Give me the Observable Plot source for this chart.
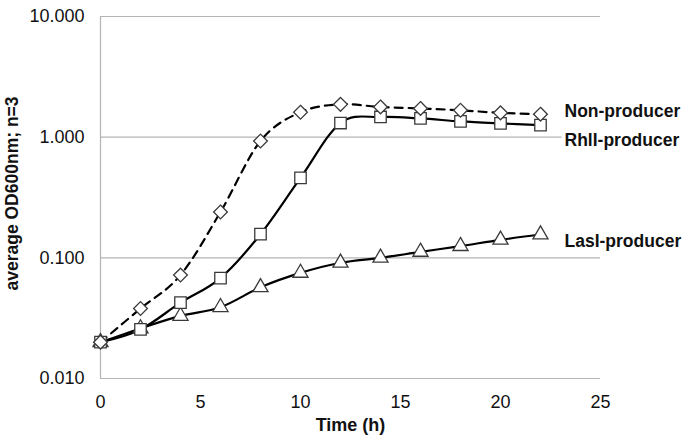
<!DOCTYPE html>
<html>
<head>
<meta charset="utf-8">
<script src="https://cdn.jsdelivr.net/npm/d3@7"></script>
<script src="https://cdn.jsdelivr.net/npm/@observablehq/plot@0.6"></script>
<style>
  html, body { margin: 0; padding: 0; background: #fff; }
  #chart svg { display: block; }
</style>
</head>
<body>
<div id="chart"></div>
<script>
const time = [0, 2, 4, 6, 8, 10, 12, 14, 16, 18, 20, 22];
const nonProducer = [0.020, 0.038, 0.072, 0.24, 0.93, 1.61, 1.87, 1.78, 1.73, 1.67, 1.59, 1.55];
const rhlIProducer = [0.020, 0.0255, 0.0425, 0.068, 0.157, 0.46, 1.31, 1.47, 1.43, 1.35, 1.30, 1.26];
const lasIProducer = [0.020, 0.026, 0.033, 0.039, 0.057, 0.075, 0.091, 0.100, 0.112, 0.125, 0.141, 0.156];
const seriesNames = ["Non-producer", "RhlI-producer", "LasI-producer"];
const yTicks = [0.01, 0.1, 1, 10];
const xTicks = [0, 5, 10, 15, 20, 25];
const xLabel = "Time (h)";
const yLabel = "average OD600nm; n=3";

const toRows = (vals, name) => time.map((t, i) => ({t, v: vals[i], name}));
const nonRows = toRows(nonProducer, seriesNames[0]);
const rhlRows = toRows(rhlIProducer, seriesNames[1]);
const lasRows = toRows(lasIProducer, seriesNames[2]);

const font = "'Liberation Sans', Arial, Helvetica, sans-serif";
const markerStroke = "#3a3a3a";

const chart = Plot.plot({
  width: 700,
  height: 446,
  marginLeft: 100,
  marginRight: 100,
  marginTop: 16,
  marginBottom: 68,
  style: {fontFamily: font, fontSize: "18px", color: "#111", background: "#fff"},
  x: {domain: [0, 25], ticks: xTicks},
  y: {type: "log", domain: [0.01, 10], ticks: yTicks},
  marks: [
    Plot.ruleY(yTicks.slice(1), {stroke: "#b4b4b4", strokeWidth: 1.2}),
    Plot.ruleX([0], {stroke: "#b4b4b4", strokeWidth: 1.2}),
    Plot.ruleY([0.01], {stroke: "#b4b4b4", strokeWidth: 1.2}),
    Plot.axisX({ticks: xTicks, tickSize: 0, tickPadding: 17, label: null, fontSize: 18}),
    Plot.axisY({ticks: yTicks, tickSize: 0, tickPadding: 16, tickFormat: d3.format(".3f"), label: null, fontSize: 18}),
    Plot.text([xLabel], {frameAnchor: "bottom", dy: 52, fontWeight: "bold", fontSize: 18}),
    Plot.text([yLabel], {frameAnchor: "left", dx: -88, dy: -4, rotate: -90, textAnchor: "middle", fontWeight: "bold", fontSize: 17.5}),
    Plot.line(nonRows, {x: "t", y: "v", curve: "cardinal", stroke: "#000", strokeWidth: 2.2, strokeDasharray: "8,6"}),
    Plot.line(rhlRows, {x: "t", y: "v", curve: "cardinal", stroke: "#000", strokeWidth: 2.2}),
    Plot.line(lasRows, {x: "t", y: "v", curve: "cardinal", stroke: "#000", strokeWidth: 2.2}),
    Plot.dot(lasRows, {x: "t", y: "v", symbol: "triangle2", r: 7.2, fill: "white", stroke: markerStroke, strokeWidth: 1.3}),
    Plot.dot(rhlRows, {x: "t", y: "v", symbol: "square2", r: 7.3, fill: "white", stroke: markerStroke, strokeWidth: 1.3}),
    Plot.dot(nonRows, {x: "t", y: "v", symbol: "diamond2", r: 6.2, fill: "white", stroke: markerStroke, strokeWidth: 1.3}),
    Plot.text(nonRows.slice(-1), {x: "t", y: "v", text: "name", dx: 24, dy: -3, textAnchor: "start", fontWeight: "bold", fontSize: 17.5, stroke: "white", strokeWidth: 8, fill: "#111"}),
    Plot.text(rhlRows.slice(-1), {x: "t", y: "v", text: "name", dx: 24, dy: 15, textAnchor: "start", fontWeight: "bold", fontSize: 17.5, stroke: "white", strokeWidth: 8, fill: "#111"}),
    Plot.text(lasRows.slice(-1), {x: "t", y: "v", text: "name", dx: 24, dy: 7, textAnchor: "start", fontWeight: "bold", fontSize: 17.5, stroke: "white", strokeWidth: 8, fill: "#111"})
  ]
});
document.getElementById("chart").appendChild(chart);
</script>
</body>
</html>
